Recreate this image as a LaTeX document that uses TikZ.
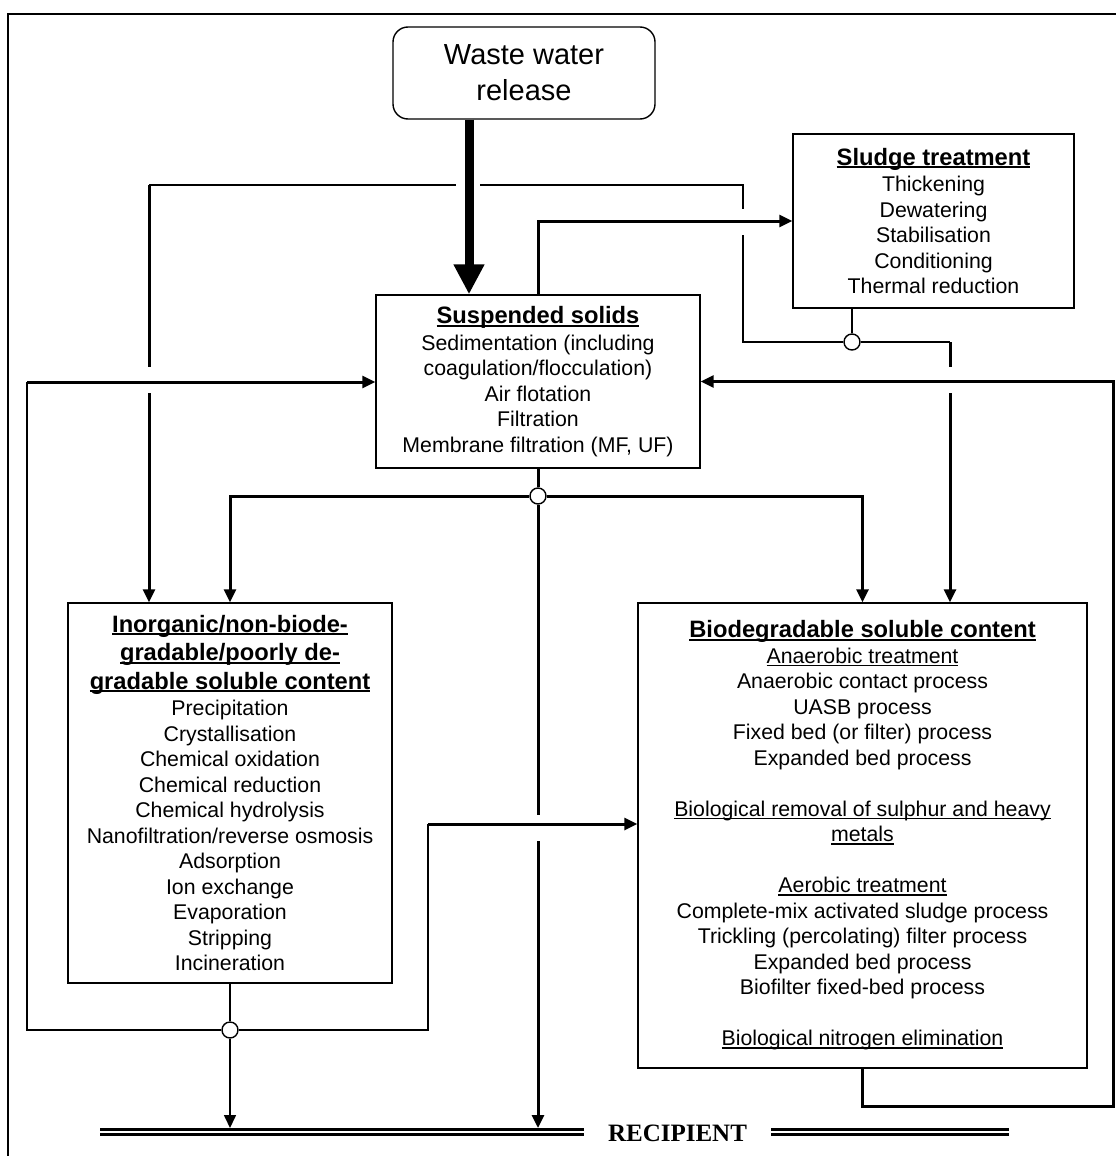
\documentclass[tikz,border=0pt]{standalone}
\usepackage{fontspec}
\setmainfont{Liberation Sans}
\newfontfamily\recipientfont{Liberation Serif}
\usetikzlibrary{arrows.meta}
\newsavebox\undlbox
\newcommand{\undl}[2][1.4pt]{\sbox\undlbox{#2}\rlap{\rule[-3pt]{\wd\undlbox}{#1}}\usebox\undlbox}
\newcommand{\boxtitle}[1]{{\fontsize{23.7}{29}\selectfont\bfseries\undl[2pt]{#1}}}

\begin{document}
\begin{tikzpicture}[x=1pt,y=-1pt,
>={Triangle[length=13pt,width=12pt]},
squarednode/.style={rectangle, draw, line width=1.4pt, inner sep=0pt, align=center, font=\fontsize{21.3}{25.5}\selectfont},
roundednode/.style={squarednode, rounded corners=15pt, font=\fontsize{29}{36}\selectfont},
junctionnode/.style={circle, draw, fill=white, line width=1.4pt, minimum size=16pt, inner sep=0pt},
gapnode/.style={rectangle, fill=white, inner sep=0pt, minimum width=8pt, minimum height=26pt},
thickline/.style={line width=3pt},
thinline/.style={line width=1.6pt},
fat arrow/.style={line width=9pt, -{Triangle[length=30pt,width=29pt]}},
recipientline/.style={line width=3pt, double, double distance=2.5pt}
]
\useasboundingbox (0,0) rectangle (1116,1156);
\draw[line width=1.8pt] (8,1156) -- (8,14) -- (1116,14);

%Nodes
\node[roundednode, minimum width=262pt, minimum height=92pt] at (524,73) (WASTE) {Waste water\\release};
\node[squarednode, minimum width=324pt, minimum height=173pt] at (538,381.5) (SUSP) {\boxtitle{Suspended solids}\\[1pt]
  Sedimentation (including\\coagulation/flocculation)\\Air flotation\\Filtration\\Membrane filtration (MF, UF)};
\node[squarednode, minimum width=281pt, minimum height=174pt] at (933.5,221) (SLUDGE) {\boxtitle{Sludge treatment}\\[1pt]
  Thickening\\Dewatering\\Stabilisation\\Conditioning\\Thermal reduction};
\node[squarednode, minimum width=324pt, minimum height=380pt] at (230,793) (INORG) {\boxtitle{Inorganic/non-biode-}\\[3pt]
  \boxtitle{gradable/poorly de-}\\[3pt] \boxtitle{gradable soluble content}\\[1pt]
  Precipitation\\Crystallisation\\Chemical oxidation\\Chemical reduction\\Chemical hydrolysis\\
  Nanofiltration/reverse osmosis\\Adsorption\\Ion exchange\\Evaporation\\Stripping\\Incineration};
\node[squarednode, minimum width=449pt, minimum height=465pt] at (862.5,835.5) (BIO) {\boxtitle{Biodegradable soluble content}\\
  \undl{Anaerobic treatment}\\Anaerobic contact process\\UASB process\\Fixed bed (or filter) process\\Expanded bed process\\[25.5pt]
  \undl{Biological removal of sulphur and heavy}\\ \undl{metals}\\[25.5pt]
  \undl{Aerobic treatment}\\Complete-mix activated sludge process\\Trickling (percolating) filter process\\
  Expanded bed process\\Biofilter fixed-bed process\\[25.5pt]
  \undl{Biological nitrogen elimination}};
\node[font=\recipientfont\bfseries\fontsize{25}{30}\selectfont, inner xsep=24pt, inner ysep=0pt] at (677.5,1133) (RECIP) {RECIPIENT};

\node[junctionnode] at (538,496) (JOIN-1) {};
\node[junctionnode] at (852,342) (JOIN-2) {};
\node[junctionnode] at (230,1030) (JOIN-3) {};

\coordinate (STEM) at (469,0);
\coordinate (SL-1) at (743,185);
\coordinate (SL-2) at (149,185);
\coordinate (SL-3) at (950,342);
\coordinate (LOOP-L) at (27,382);
\coordinate (LOOP-R) at (428,824);
\coordinate (LOOP-BIO) at (1113,1106);
\coordinate (RECL) at (100,1132);
\coordinate (RECR) at (1009,1132);
\coordinate (RECTOP) at (0,1128);

%Lines
\draw[recipientline] (RECL) -- (RECL -| RECIP.west);
\draw[recipientline] (RECR -| RECIP.east) -- (RECR);

\draw[thinline] (SLUDGE.south -| JOIN-2) -- (JOIN-2);
\draw[thinline] (JOIN-2) -| (SL-1) -- (SL-2);
\draw[thickline,->] (SL-2) -- (SL-2 |- INORG.north);
\draw[thinline] (JOIN-2) -- (SL-3);
\draw[thickline,->] (SL-3) -- (SL-3 |- BIO.north);

\draw[thickline] (SUSP.south) -- (JOIN-1);
\draw[thickline,->] (JOIN-1) -| (INORG.north);
\draw[thickline,->] (JOIN-1) -| (BIO.north);
\draw[thickline,->] (JOIN-1) -- (JOIN-1 |- RECTOP);

\draw[thinline] (INORG.south) -- (JOIN-3);
\draw[thinline,->] (JOIN-3) -- (JOIN-3 |- RECTOP);
\draw[thinline] (JOIN-3) -| (LOOP-L);
\draw[thinline] (JOIN-3) -| (LOOP-R);

%Crossings
\node[gapnode] at (538,828) (GAP-1) {};
\node[gapnode] at (149,380) (GAP-2) {};
\node[gapnode] at (950,380) (GAP-3) {};
\node[gapnode] at (743,222) (GAP-4) {};
\node[gapnode, minimum width=24pt, minimum height=6pt] at (468,185) (GAP-5) {};

\draw[fat arrow] (WASTE.south -| STEM) -- (SUSP.north -| STEM);
\draw[thickline,->] (SUSP.north) |- (SLUDGE.west);
\draw[thickline,->] (LOOP-L) -- (LOOP-L -| SUSP.west);
\draw[thickline,->] (LOOP-R) -- (LOOP-R -| BIO.west);
\draw[thickline,->] (BIO.south) |- (LOOP-BIO) |- (SUSP.east);
\end{tikzpicture}
\end{document}
